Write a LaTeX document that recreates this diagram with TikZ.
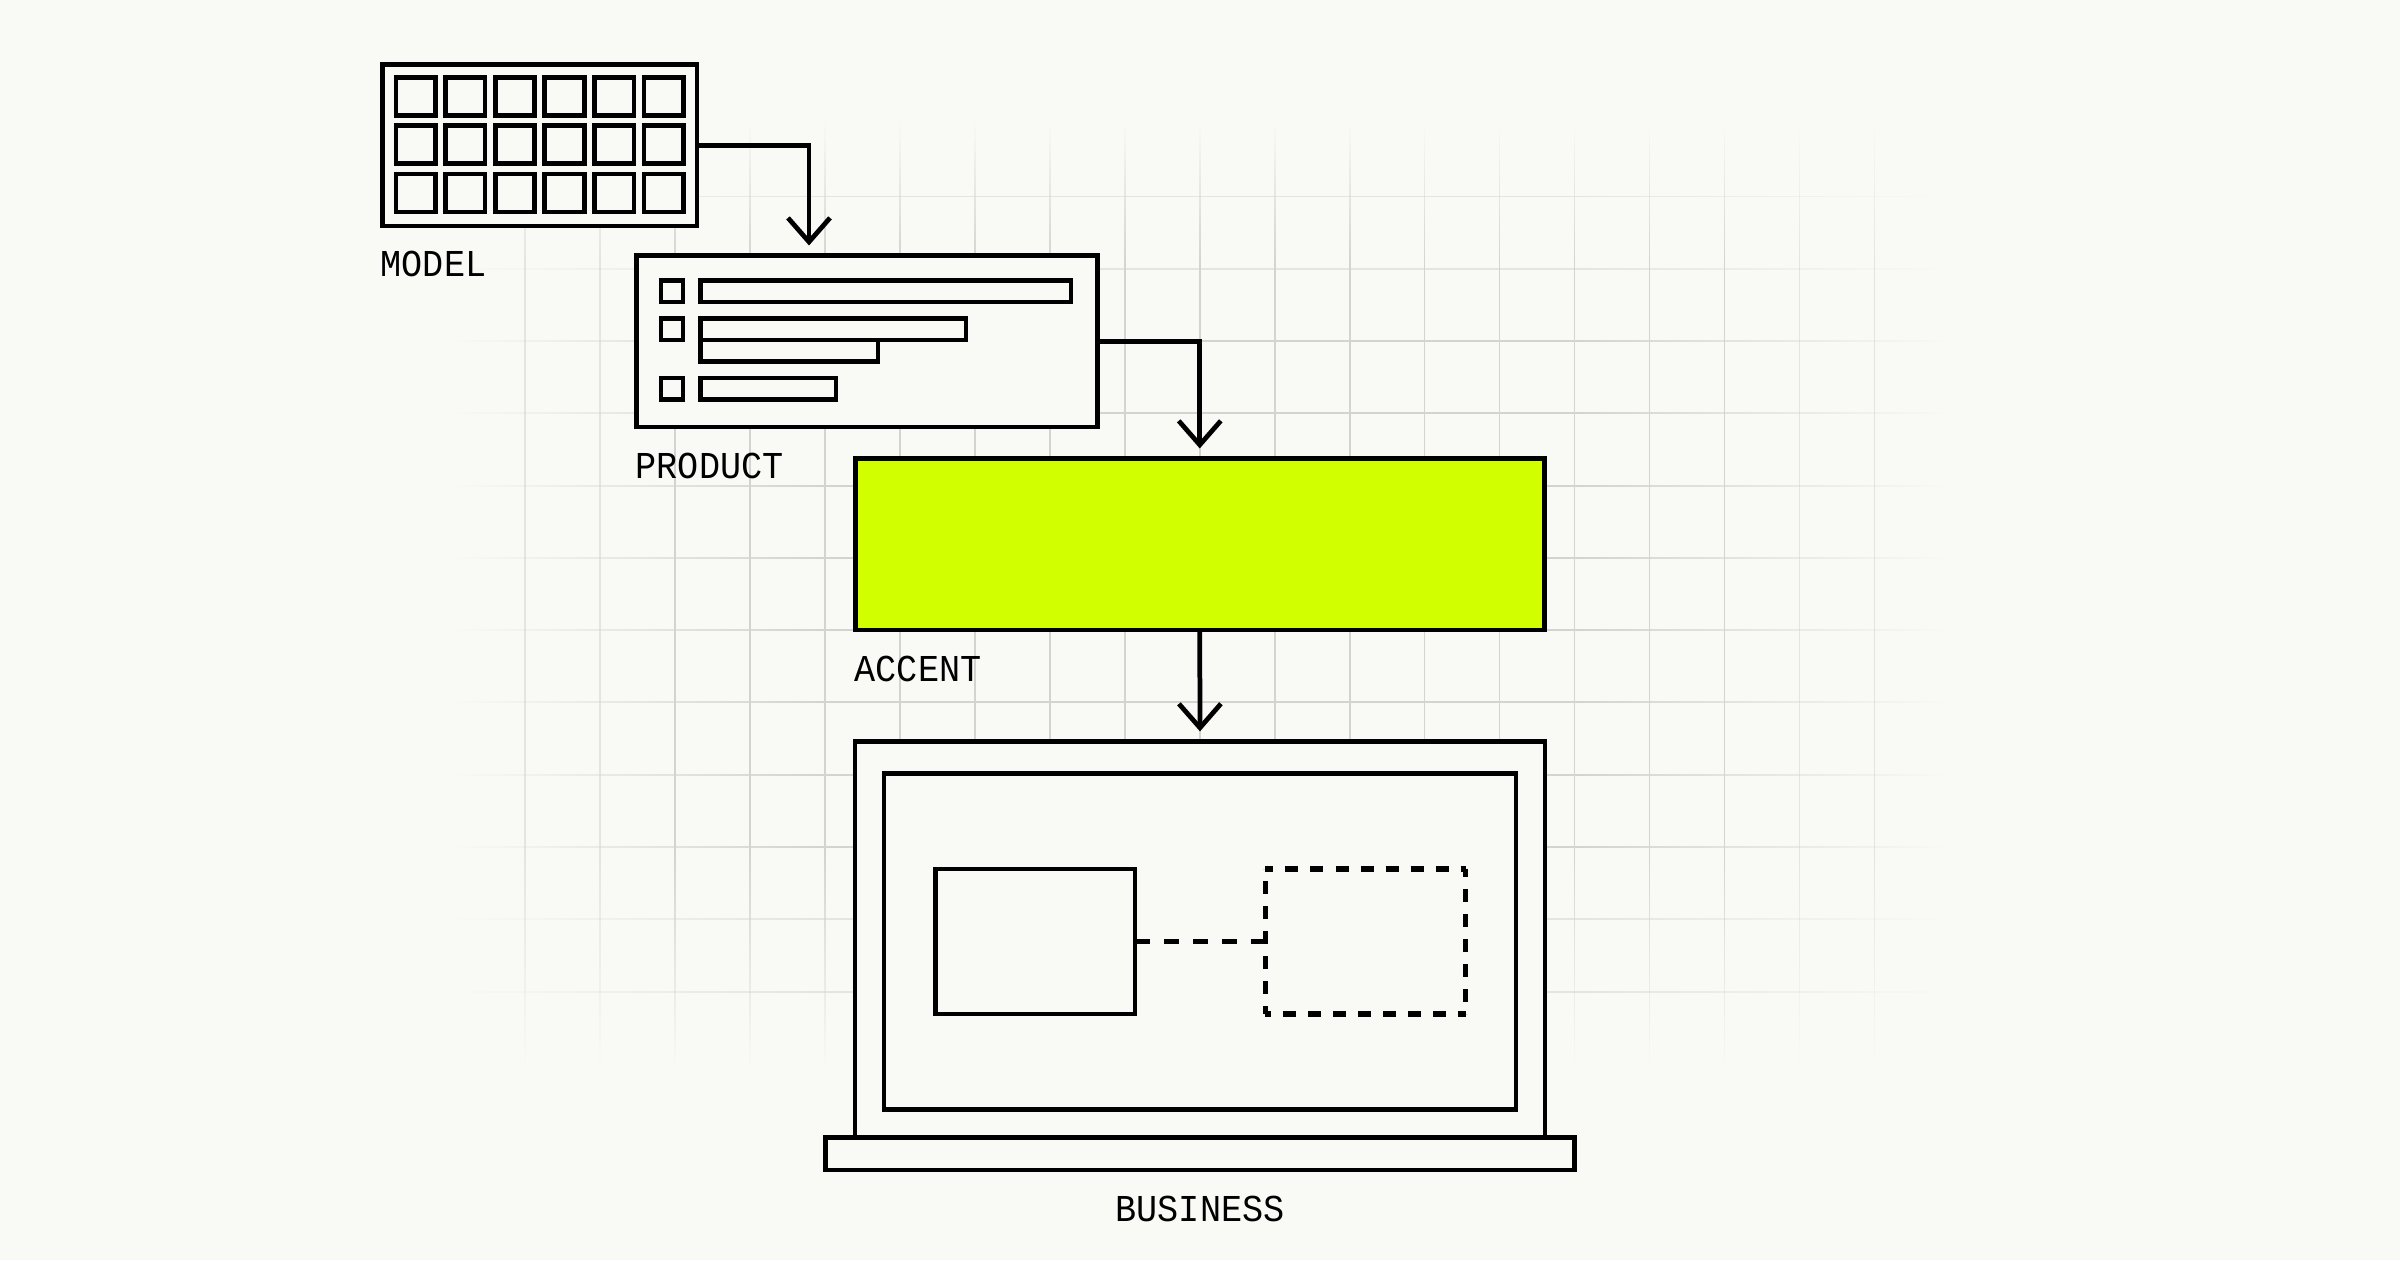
\documentclass[tikz,border=0pt]{standalone}
\usepackage{fontspec}
\setmonofont{Liberation Mono}
\usetikzlibrary{arrows.meta,fadings}
\definecolor{pagebg}{HTML}{F9F9F5}
\definecolor{gridgray}{HTML}{D3D3CF}
\definecolor{accentlime}{HTML}{D2FF00}
\pgfdeclarehorizontalshading{acrossshade}{100bp}{color(0bp)=(transparent!100); color(25bp)=(transparent!100); color(37.5bp)=(transparent!0); color(62.5bp)=(transparent!0); color(75bp)=(transparent!100); color(100bp)=(transparent!100)}
\pgfdeclareverticalshading{downshade}{100bp}{color(0bp)=(transparent!100); color(25bp)=(transparent!100); color(36.5bp)=(transparent!0); color(67.5bp)=(transparent!0); color(75bp)=(transparent!100); color(100bp)=(transparent!100)}
\pgfdeclarefading{fadeacross}{\pgfuseshading{acrossshade}}
\pgfdeclarefading{fadedown}{\pgfuseshading{downshade}}
\newcommand{\tagtext}[1]{\scalebox{1}[1.08]{#1}}
\tikzset{
  panel/.style={rectangle, draw=black, fill=pagebg, line width=1.35pt, inner sep=0pt, outer sep=0pt},
  cell/.style={panel, minimum width=0.395cm, minimum height=0.38cm},
  tick/.style={panel, minimum width=0.22cm, minimum height=0.215cm},
  label/.style={anchor=base west, inner sep=0pt, font=\ttfamily\fontsize{10}{12}\selectfont},
  flow/.style={draw=black, line width=1.35pt, -{Straight Barb[length=0.24cm, width=0.42cm, line width=1.35pt]}, shorten >=0.1cm},
  gridline/.style={gridgray, line width=0.45pt},
  dashside/.style={draw=black, line width=1.5pt, dash pattern=on 0.13cm off 0.12cm}
}
\begin{document}
\begin{tikzpicture}[x=0.01cm, y=-0.01cm]
  \fill[pagebg] (0,0) rectangle (2400,1260);
  % Grid
  \draw[gridline, path fading=fadeacross] (457,341) -- (1943,341)
    \foreach \y in {413.3,486,558,630,702,775,847} { (457,\y) -- (1943,\y) };
  \draw[gridline, opacity=0.55, path fading=fadeacross] (457,196.7) -- (1943,196.7)
    \foreach \y in {269,919,992} { (457,\y) -- (1943,\y) };
  \draw[gridline, path fading=fadedown] (675,125) -- (675,1066)
    \foreach \x in {750,825,...,1725} { (\x,125) -- (\x,1066) };
  \draw[gridline, opacity=0.55, path fading=fadedown] (525,125) -- (525,1066)
    \foreach \x in {600,1800,1875} { (\x,125) -- (\x,1066) };
  % Nodes
  \node[panel, minimum width=3.145cm, minimum height=1.615cm] (model) at (539.75,145.25) {};
  \foreach \row in {0,1,2} {
    \foreach \col in {0,...,5} {
      \node[cell] (cell\row\col) at (415.75+49.6*\col,96.5+48.3*\row) {};
    }
  }
  \node[panel, minimum width=4.605cm, minimum height=1.715cm] (product) at (866.75,341.25) {};
  \node[tick] (tickA) at (672,291.3) {};
  \node[tick] (tickB) at (672,329.2) {};
  \node[tick] (tickC) at (672,388.7) {};
  \node[panel, minimum width=3.705cm, minimum height=0.215cm] (barA) at (885.75,291.3) {};
  \node[panel, minimum width=1.775cm, minimum height=0.215cm] (barC) at (789.25,350.7) {};
  \node[panel, minimum width=2.655cm, minimum height=0.215cm] (barB) at (833.25,329.2) {};
  \node[panel, minimum width=1.355cm, minimum height=0.215cm] (barD) at (768.25,388.7) {};
  \node[panel, fill=accentlime, minimum width=6.885cm, minimum height=1.715cm] (accent) at (1199.75,544.25) {};
  \node[panel, minimum width=6.895cm, minimum height=3.98cm] (laptop) at (1200,940.5) {};
  \node[panel, minimum width=6.315cm, minimum height=3.355cm] (screen) at (1200,941.3) {};
  \node[panel, minimum width=7.48cm, minimum height=0.325cm] (base) at (1200,1153.8) {};
  \node[panel, minimum width=1.996cm, minimum height=1.45cm] (app) at (1035.2,941.5) {};
  \node[minimum width=2.002cm, minimum height=1.45cm, inner sep=0pt, outer sep=0pt] (ghost) at (1365.6,941.5) {};
  % Labels
  \node[label] (modeltext) at (380,276.5) {\tagtext{MODEL}};
  \node[label] (producttext) at (635,478.5) {\tagtext{PRODUCT}};
  \node[label] (accenttext) at (854,681) {\tagtext{ACCENT}};
  \node[label, anchor=base] (laptoptext) at (1200,1221.5) {\tagtext{BUSINESS}};
  % Edges
  \coordinate (drop) at (809,255.5);
  \draw[flow] (model.east) -| (drop);
  \draw[flow] (product.east) -| (accent.north);
  \draw[flow] (accent.south) -- (laptop.north);
  \draw[dashside, dash pattern=on 0.145cm off 0.145cm] (app.east) -- (ghost.west);
  \draw[dashside, dash phase=0.05cm] (ghost.north west) -- (ghost.north east);
  \draw[dashside, dash phase=0.05cm] (ghost.north east) -- (ghost.south east);
  \draw[dashside, dash phase=0.05cm] (ghost.south east) -- (ghost.south west);
  \draw[dashside, dash phase=0.05cm] (ghost.south west) -- (ghost.north west);
\end{tikzpicture}
\end{document}
